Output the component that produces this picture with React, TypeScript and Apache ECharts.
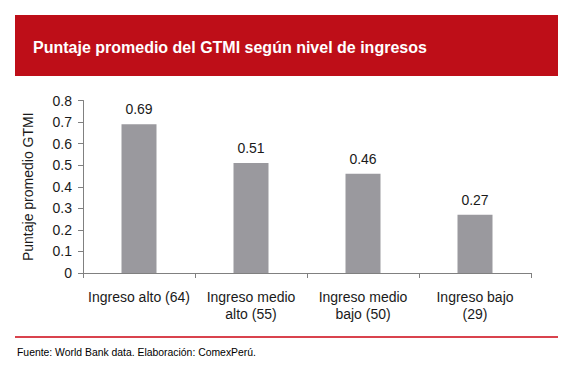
import React, { useEffect, useRef } from "react";
import * as echarts from "echarts";

const categories = ["Ingreso alto (64)", "Ingreso medio\nalto (55)", "Ingreso medio\nbajo (50)", "Ingreso bajo\n(29)"];
const values = [0.69, 0.51, 0.46, 0.27];
const titleText = "Puntaje promedio del GTMI según nivel de ingresos";
const yAxisName = "Puntaje promedio GTMI";
const sourceText = "Fuente: World Bank data. Elaboración: ComexPerú.";

const FONT = "'Liberation Sans', Arial, sans-serif";

export default function App() {
  const ref = useRef<HTMLDivElement>(null);
  useEffect(() => {
    document.body.style.margin = "0";
    const chart = echarts.init(ref.current!, null, { renderer: "svg" });
    chart.setOption({
      animation: false,
      backgroundColor: "#ffffff",
      textStyle: { fontFamily: FONT },
      graphic: [
        { type: "rect", shape: { x: 15, y: 15, width: 543, height: 61 }, style: { fill: "#BE0E18" } },
        {
          type: "text",
          x: 33,
          y: 47,
          style: { text: titleText, fill: "#ffffff", font: `bold 16px ${FONT}`, textVerticalAlign: "middle" },
        },
        { type: "rect", shape: { x: 15, y: 336, width: 543, height: 2 }, style: { fill: "#D9434D" } },
        {
          type: "text",
          x: 17,
          y: 352,
          style: { text: sourceText, fill: "#000000", font: `10.4px ${FONT}`, textVerticalAlign: "middle" },
        },
      ],
      grid: { left: 83, right: 45, top: 100.5, bottom: 99, containLabel: false },
      xAxis: {
        type: "category",
        data: categories,
        axisLine: { lineStyle: { color: "#808080", width: 1 } },
        axisTick: { show: true, length: 5, lineStyle: { color: "#808080" } },
        axisLabel: { color: "#1a1a1a", fontSize: 14, fontFamily: FONT, lineHeight: 17, margin: 15, interval: 0 },
      },
      yAxis: {
        type: "value",
        min: 0,
        max: 0.8,
        interval: 0.1,
        name: yAxisName,
        nameLocation: "middle",
        nameGap: 48,
        nameTextStyle: { color: "#1a1a1a", fontSize: 14, fontFamily: FONT },
        axisLine: { show: true, lineStyle: { color: "#808080", width: 1 } },
        axisTick: { show: true, length: 5, lineStyle: { color: "#808080" } },
        splitLine: { show: false },
        axisLabel: {
          color: "#1a1a1a",
          fontSize: 14,
          fontFamily: FONT,
          margin: 11,
          formatter: (v: number) => (v === 0 ? "0" : String(Math.round(v * 10) / 10)),
        },
      },
      series: [
        {
          type: "bar",
          data: values,
          barWidth: 35,
          itemStyle: { color: "#9A999E" },
          label: {
            show: true,
            position: "top",
            distance: 8,
            color: "#1a1a1a",
            fontSize: 14,
            fontFamily: FONT,
            formatter: (p: any) => p.value.toFixed(2),
          },
        },
      ],
    });
    return () => chart.dispose();
  }, []);
  return <div ref={ref} style={{ width: 576, height: 372 }} />;
}
